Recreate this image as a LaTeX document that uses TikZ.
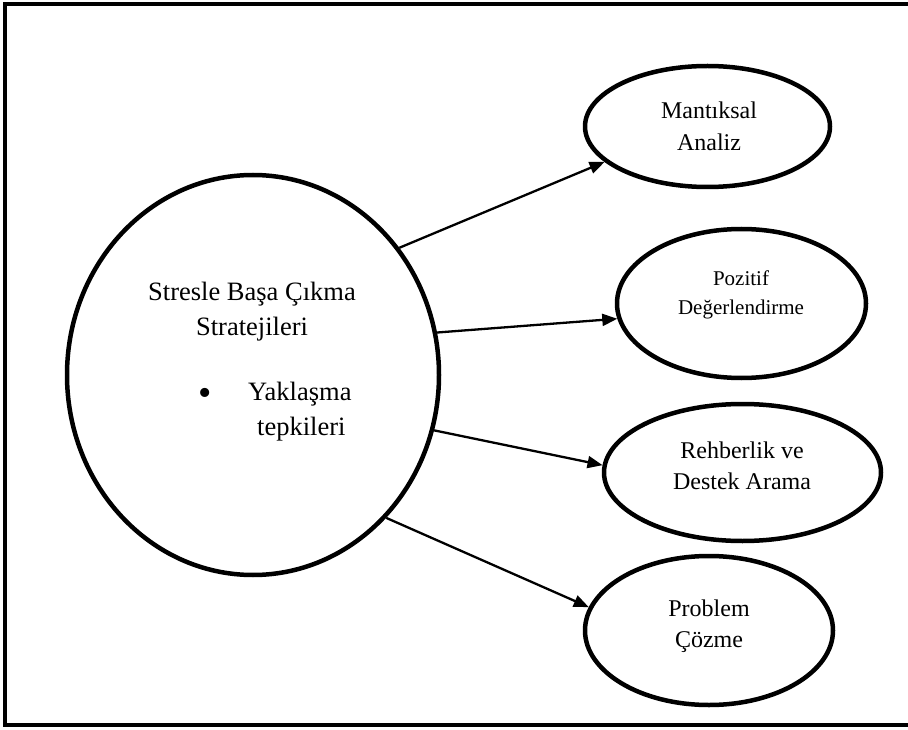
\documentclass[tikz,border=0pt]{standalone}
\usepackage{fontspec}
\setmainfont{Liberation Serif}
\usetikzlibrary{shapes.geometric,arrows.meta}
\tikzset{
  oval/.style={draw=black, line width=4.5pt, ellipse, inner sep=0pt},
  conn/.style={draw=black, line width=2.3pt, -{Triangle[length=15pt,width=12pt]}},
  bigtxt/.style={font=\fontsize{26.5}{33}\selectfont, anchor=base, inner sep=0pt},
  smalltxt/.style={font=\fontsize{24}{30}\selectfont, anchor=base, inner sep=0pt},
  poztxt/.style={font=\fontsize{21}{27}\selectfont, anchor=base, inner sep=0pt}
}
\begin{document}
\begin{tikzpicture}[x=1pt,y=-1pt]
\clip (0,0) rectangle (908,730);
\fill[white] (0,0) rectangle (908,730);
\draw[line width=4pt] (5,4) rectangle (930,725);

% ellipses
\node[oval, minimum width=372pt, minimum height=400pt] (big) at (253,375) {};
\node[oval, minimum width=245pt, minimum height=121pt] (mant) at (707.5,126.5) {};
\node[oval, minimum width=249pt, minimum height=149pt] (poz) at (741.5,303.5) {};
\node[oval, minimum width=277pt, minimum height=137pt] (reh) at (742.5,472.5) {};
\node[oval, minimum width=248pt, minimum height=149pt] (prob) at (709,630.5) {};

% texts in big ellipse
\node[bigtxt] (b1) at (252,300) {Stresle Başa Çıkma};
\node[bigtxt] (b2) at (252,335) {Stratejileri};
\node[bigtxt, font=\fontsize{38}{40}\selectfont] (bul) at (205,405) {•};
\node[bigtxt, anchor=base west] (b3) at (248,400) {Yaklaşma};
\node[bigtxt, anchor=base west] (b4) at (257,435) {tepkileri};

% texts in small ellipses
\node[smalltxt] (m1) at (709,119) {Mantıksal};
\node[smalltxt] (m2) at (709,151) {Analiz};
\node[poztxt] (p1) at (741,285) {Pozitif};
\node[poztxt] (p2) at (741,314) {Değerlendirme};
\node[smalltxt] (r1) at (742,458) {Rehberlik ve};
\node[smalltxt] (r2) at (742,489) {Destek Arama};
\node[smalltxt] (q1) at (709,616) {Problem};
\node[smalltxt] (q2) at (709,647) {Çözme};

% connectors
\draw[conn] (big.41.7) -- (mant.199.6);
\draw[conn] (big.13.1) -- (poz.187.9);
\draw[conn] (big.-17.7) -- (reh.177);
\draw[conn] (big.-47.3) -- (prob.169.1);
\end{tikzpicture}
\end{document}
